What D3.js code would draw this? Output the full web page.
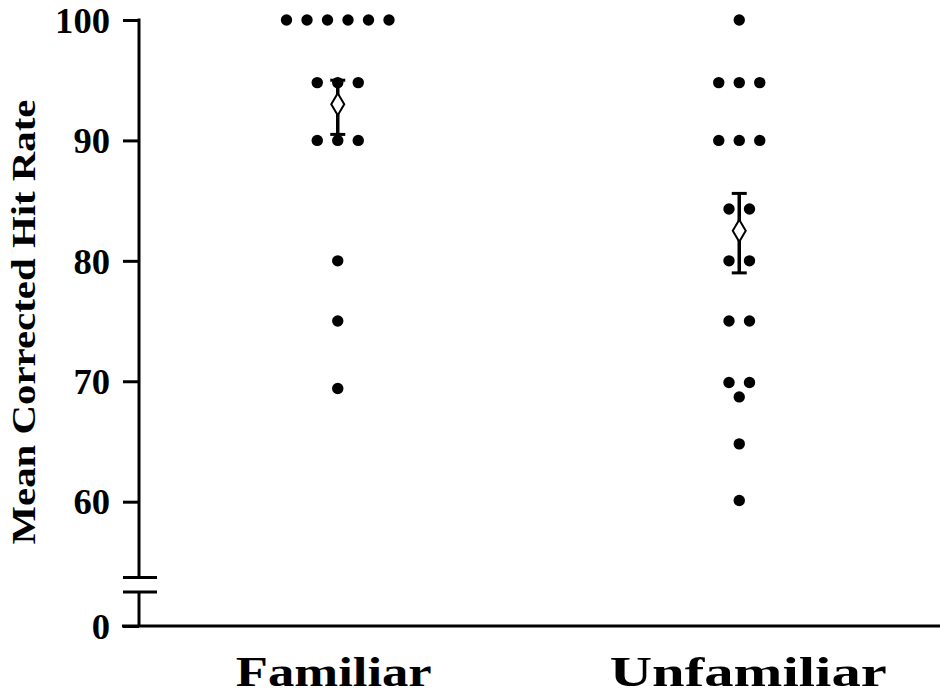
<!DOCTYPE html>
<html>
<head>
<meta charset="utf-8">
<script src="https://cdn.jsdelivr.net/npm/d3@7"></script>
<style>
  html, body { margin: 0; padding: 0; background: #fff; }
  svg { display: block; }
  text { font-family: "Liberation Serif", "DejaVu Serif", serif; font-weight: bold; fill: #000; }
</style>
</head>
<body>
<svg id="chart" width="940" height="696"></svg>
<script>
// Conditions along the x axis
const categories = ["Familiar", "Unfamiliar"];

// Individual corrected hit rates per participant
const familiarScores = [100, 100, 100, 100, 100, 100, 94.8, 94.8, 94.8, 90, 90, 90, 80, 75, 69.4];
const unfamiliarScores = [100, 94.8, 94.8, 94.8, 90, 90, 90, 84.3, 84.3, 80, 80, 75, 75, 69.9, 69.9, 68.7, 64.8, 60.1];

// Condition means with error bar limits
const means = [93.0, 82.5];
const errLow = [90.5, 79.0];
const errHigh = [95.0, 85.6];

// Axis ticks (the axis is broken between 0 and 60)
const yTicks = [0, 60, 70, 80, 90, 100];
const breakLow = 52.5, breakHigh = 53.7;

const svg = d3.select("#chart");

// Piecewise scale: compressed segment below the break
const y = d3.scaleLinear().domain([0, breakLow, 100]).range([626, 592, 20]);
const x = d3.scalePoint().domain(categories).range([137, 940]).padding(0.5);

const axisX = 139;
const ink = "#000";

// Y axis line, drawn in two pieces around the break
const axisG = svg.append("g");
axisG.append("line")
  .attr("x1", axisX).attr("x2", axisX)
  .attr("y1", y(0)).attr("y2", y(breakLow))
  .attr("stroke", ink).attr("stroke-width", 3);
axisG.append("line")
  .attr("x1", axisX).attr("x2", axisX)
  .attr("y1", y(breakHigh)).attr("y2", y(100) - 1.5)
  .attr("stroke", ink).attr("stroke-width", 3);
// Break marks
[breakLow, breakHigh].forEach(v => {
  axisG.append("line")
    .attr("x1", axisX - 16).attr("x2", axisX + 18)
    .attr("y1", y(v)).attr("y2", y(v))
    .attr("stroke", ink).attr("stroke-width", 3);
});

// Ticks and labels via d3.axisLeft
const yAxis = d3.axisLeft(y).tickValues(yTicks).tickSize(16).tickPadding(13).tickFormat(d3.format("d"));
const yG = svg.append("g").attr("transform", `translate(${axisX},0)`).call(yAxis);
yG.select(".domain").remove();
yG.selectAll(".tick line").attr("stroke", ink).attr("stroke-width", 3);
yG.selectAll(".tick text")
  .attr("font-family", "'Liberation Serif', 'DejaVu Serif', serif")
  .attr("font-weight", "bold")
  .attr("font-size", 36)
  .attr("fill", ink)
  .attr("dy", "0.34em")
  .attr("textLength", d => String(d).length * 18.3)
  .attr("lengthAdjust", "spacingAndGlyphs");

// X axis baseline
svg.append("line")
  .attr("x1", 122).attr("x2", 940)
  .attr("y1", y(0)).attr("y2", y(0))
  .attr("stroke", ink).attr("stroke-width", 3);

// Category labels
const catWidth = { "Familiar": 196, "Unfamiliar": 277 };
const catShift = { "Familiar": -4, "Unfamiliar": 9 };
svg.selectAll("text.cat")
  .data(categories)
  .join("text")
  .attr("class", "cat")
  .attr("x", d => x(d) + catShift[d])
  .attr("y", 686)
  .attr("text-anchor", "middle")
  .attr("font-size", 42)
  .attr("textLength", d => catWidth[d])
  .attr("lengthAdjust", "spacingAndGlyphs")
  .text(d => d);

// Y axis title
svg.append("text")
  .attr("transform", `translate(35, 322) rotate(-90)`)
  .attr("text-anchor", "middle")
  .attr("font-size", 34)
  .attr("textLength", 445)
  .attr("lengthAdjust", "spacingAndGlyphs")
  .text("Mean Corrected Hit Rate");

// Spread tied scores side by side around the category centre
const spacing = 20.5;
function layout(scores, cat) {
  const groups = d3.groups(scores, v => v);
  const pts = [];
  groups.forEach(([v, arr]) => {
    const n = arr.length;
    arr.forEach((_, i) => {
      pts.push({ v, cx: x(cat) + (i - (n - 1) / 2) * spacing });
    });
  });
  return pts;
}
const points = layout(familiarScores, "Familiar").concat(layout(unfamiliarScores, "Unfamiliar"));

svg.append("g").selectAll("circle")
  .data(points)
  .join("circle")
  .attr("cx", d => d.cx)
  .attr("cy", d => y(d.v))
  .attr("r", 5.7)
  .attr("fill", ink);

// Mean markers with error bars
const summary = categories.map((c, i) => ({ c, m: means[i], lo: errLow[i], hi: errHigh[i] }));
const eg = svg.append("g").selectAll("g").data(summary).join("g");
eg.append("line")
  .attr("x1", d => x(d.c)).attr("x2", d => x(d.c))
  .attr("y1", d => y(d.hi)).attr("y2", d => y(d.lo))
  .attr("stroke", ink).attr("stroke-width", 3.5);
eg.append("line")
  .attr("x1", d => x(d.c) - 7.5).attr("x2", d => x(d.c) + 7.5)
  .attr("y1", d => y(d.hi)).attr("y2", d => y(d.hi))
  .attr("stroke", ink).attr("stroke-width", 3);
eg.append("line")
  .attr("x1", d => x(d.c) - 7.5).attr("x2", d => x(d.c) + 7.5)
  .attr("y1", d => y(d.lo)).attr("y2", d => y(d.lo))
  .attr("stroke", ink).attr("stroke-width", 3);
eg.append("path")
  .attr("d", d => {
    const cx = x(d.c), cy = y(d.m);
    return `M${cx},${cy - 11}L${cx + 6.5},${cy}L${cx},${cy + 11}L${cx - 6.5},${cy}Z`;
  })
  .attr("fill", "#fff")
  .attr("stroke", ink)
  .attr("stroke-width", 2);
</script>
</body>
</html>
